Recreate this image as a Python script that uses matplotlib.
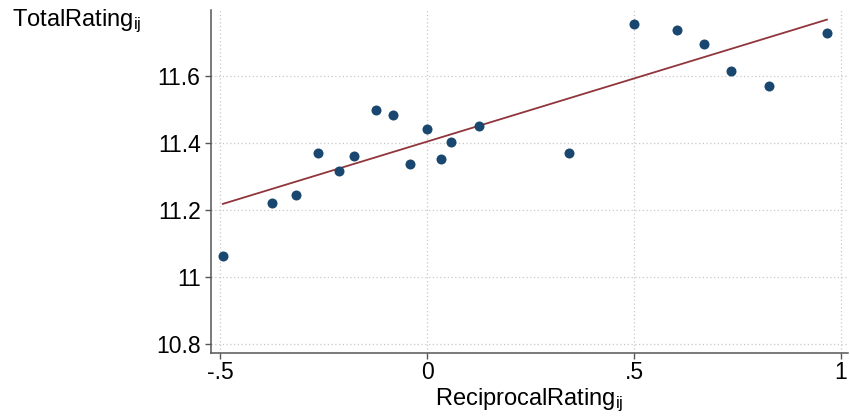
import matplotlib
matplotlib.use("Agg")
import matplotlib.pyplot as plt
import numpy as np

# Data (binned scatter)
reciprocal_rating = [-0.493, -0.375, -0.317, -0.264, -0.212, -0.177, -0.124, -0.081,
                     -0.042, 0.000, 0.034, 0.059, 0.126, 0.344, 0.500, 0.605,
                     0.668, 0.734, 0.826, 0.966]
total_rating = [11.064, 11.222, 11.246, 11.372, 11.318, 11.362, 11.499, 11.485,
                11.339, 11.443, 11.353, 11.403, 11.453, 11.370, 11.757, 11.737,
                11.696, 11.616, 11.572, 11.728]
fit_intercept = 11.405
fit_slope = 0.377

xticks = [-0.5, 0, 0.5, 1]
xticklabels = ["-.5", "0", ".5", "1"]
yticks = [10.8, 11.0, 11.2, 11.4, 11.6]
yticklabels = ["10.8", "11", "11.2", "11.4", "11.6"]

plt.rcParams['font.family'] = ['Liberation Sans', 'DejaVu Sans']
plt.rcParams['mathtext.fontset'] = 'custom'
plt.rcParams['mathtext.rm'] = 'Liberation Sans'
plt.rcParams['mathtext.it'] = 'Liberation Sans'

W, H = 850, 417
fig = plt.figure(figsize=(W / 100, H / 100), dpi=100)
ax_l, ax_r, ax_t, ax_b = 210.7, 848, 10, 353
ax = fig.add_axes([ax_l / W, (H - ax_b) / H, (ax_r - ax_l) / W, (ax_b - ax_t) / H])

x0 = (ax_l - 427) / 414
x1 = (ax_r - 427) / 414
y0 = 11 - (ax_b - 277.3) / 335
y1 = 11 + (277.3 - ax_t) / 335
ax.set_xlim(x0, x1)
ax.set_ylim(y0, y1)

ax.set_xticks(xticks)
ax.set_xticklabels(xticklabels)
ax.set_yticks(yticks)
ax.set_yticklabels(yticklabels)

ax.grid(True, color='#c8c8c8', linestyle=(0, (1, 2)), linewidth=0.9)
ax.set_axisbelow(True)

for s in ['top', 'right']:
    ax.spines[s].set_visible(False)
for s in ['left', 'bottom']:
    ax.spines[s].set_color('#555555')
    ax.spines[s].set_linewidth(1.1)

ax.tick_params(axis='both', direction='out', length=4.3, width=1.0, color='#555555',
               labelsize=16.5, labelcolor='black')
ax.tick_params(axis='x', pad=1.5)
ax.tick_params(axis='y', pad=3)

ax.scatter(reciprocal_rating, total_rating, s=52, color='#1a476f', zorder=3, linewidths=0)
xs = np.array([min(reciprocal_rating), max(reciprocal_rating)])
ax.plot(xs, fit_intercept + fit_slope * xs, color='#90353b', linewidth=1.3, zorder=2)

fig.text(12 / W, 1 - 26 / H, r'TotalRating$_{\mathregular{ij}}$', fontsize=17,
         ha='left', va='baseline')
fig.text((ax_l + ax_r) / 2 / W, 1 - 405.5 / H, r'ReciprocalRating$_{\mathregular{ij}}$',
         fontsize=17, ha='center', va='baseline')

fig.savefig('out.png', dpi=100)
